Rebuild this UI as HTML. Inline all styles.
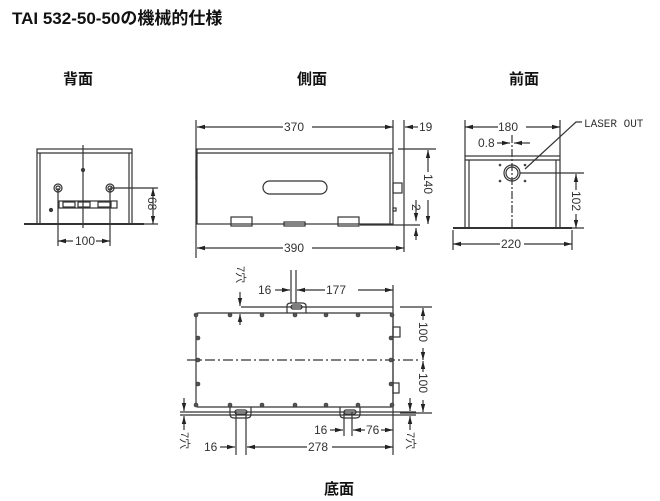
<!DOCTYPE html>
<html><head><meta charset="utf-8"><style>
body{margin:0;background:#fff;width:660px;height:501px;overflow:hidden}
svg{display:block}
.t{font-family:"Liberation Sans","Noto Sans CJK JP",sans-serif}
</style></head><body>
<svg width="660" height="501" viewBox="0 0 660 501" xmlns="http://www.w3.org/2000/svg">
<defs><marker id="a" markerWidth="8" markerHeight="6" refX="8" refY="3" orient="auto-start-reverse" markerUnits="userSpaceOnUse"><path d="M0,0.8 L8,3 L0,5.2z" fill="#222"/></marker></defs>
<g class="t" font-weight="bold" fill="#111">
<text x="12" y="24" font-size="17">TAI 532-50-50の機械的仕様</text>
<text x="63" y="84" font-size="15">背面</text>
<text x="297" y="84" font-size="15">側面</text>
<text x="509" y="84" font-size="15">前面</text>
<text x="324" y="494" font-size="15">底面</text>
</g>
<g stroke="#333" stroke-width="1.2" fill="none">
<rect x="37" y="149" width="95" height="75"/><line x1="37" y1="153" x2="132" y2="153"/>
<line x1="40" y1="153" x2="40" y2="224"/><line x1="129" y1="153" x2="129" y2="224"/>
<line x1="24" y1="224" x2="144" y2="224" stroke-width="2"/>
<line x1="83" y1="145" x2="83" y2="228"/>
<circle cx="58" cy="188" r="4"/><circle cx="58" cy="188" r="2"/><circle cx="110" cy="188" r="4"/><circle cx="110" cy="188" r="2"/>
<circle cx="83" cy="170" r="1.5" fill="#444"/><circle cx="51" cy="210" r="1.5" fill="#444"/>
<rect x="59" y="201" width="58" height="7"/><rect x="63" y="202" width="12" height="5"/><rect x="78" y="202" width="12" height="5"/><rect x="98" y="202" width="13" height="5"/>
<line x1="58" y1="188" x2="58" y2="246"/><line x1="110" y1="188" x2="110" y2="246"/>
<line x1="58" y1="241" x2="73" y2="241" marker-start="url(#a)"/><line x1="96" y1="241" x2="110" y2="241" marker-end="url(#a)"/>
<line x1="110" y1="188" x2="158" y2="188"/><line x1="140" y1="224" x2="158" y2="224"/>
<line x1="153" y1="188" x2="153" y2="224" marker-start="url(#a)" marker-end="url(#a)"/>
<rect x="197" y="149" width="196" height="75"/><line x1="197" y1="153" x2="393" y2="153"/><line x1="390" y1="153" x2="390" y2="224"/>
<line x1="196" y1="160" x2="196" y2="180"/>
<rect x="263" y="181" width="64" height="13" rx="6.5"/>
<rect x="231" y="217" width="21" height="9"/><rect x="284" y="222" width="21" height="4"/><rect x="338" y="217" width="21" height="9"/>
<line x1="360" y1="225" x2="420" y2="225"/>
<rect x="393" y="183" width="9" height="10"/><rect x="393" y="208" width="3" height="3"/>
<line x1="196" y1="120" x2="196" y2="258"/><line x1="393" y1="120" x2="393" y2="149"/><line x1="404" y1="120" x2="404" y2="252"/>
<line x1="197" y1="127" x2="283" y2="127" marker-start="url(#a)"/><line x1="312" y1="127" x2="393" y2="127" marker-end="url(#a)"/>
<line x1="418" y1="127" x2="405" y2="127" marker-end="url(#a)"/>
<line x1="197" y1="248" x2="283" y2="248" marker-start="url(#a)"/><line x1="312" y1="248" x2="404" y2="248" marker-end="url(#a)"/>
<line x1="398" y1="149" x2="436" y2="149"/>
<line x1="428" y1="150" x2="428" y2="172" marker-start="url(#a)"/><line x1="428" y1="200" x2="428" y2="224" marker-end="url(#a)"/>
<line x1="416" y1="200" x2="416" y2="221" marker-end="url(#a)"/><line x1="416" y1="240" x2="416" y2="228" marker-end="url(#a)"/>
<rect x="465" y="156" width="95" height="72"/><line x1="465" y1="160" x2="560" y2="160"/>
<line x1="469" y1="160" x2="469" y2="228"/><line x1="556" y1="160" x2="556" y2="228"/>
<line x1="453" y1="228" x2="572" y2="228" stroke-width="2"/>
<circle cx="512" cy="173" r="8"/><circle cx="512" cy="173" r="6"/>
<line x1="512" y1="135" x2="512" y2="228" stroke-dasharray="8,2,2,2"/>
<line x1="465" y1="120" x2="465" y2="156"/><line x1="560" y1="120" x2="560" y2="156"/>
<line x1="465" y1="127" x2="498" y2="127" marker-start="url(#a)"/><line x1="526" y1="127" x2="560" y2="127" marker-end="url(#a)"/>
<line x1="497" y1="143" x2="510" y2="143" marker-end="url(#a)"/><line x1="530" y1="143" x2="514" y2="143" marker-end="url(#a)"/>
<polyline points="582,122 576,122 525,169" />
<line x1="520" y1="173" x2="584" y2="173"/><line x1="560" y1="228" x2="584" y2="228"/>
<line x1="576" y1="174" x2="576" y2="190" marker-start="url(#a)"/><line x1="576" y1="214" x2="576" y2="228" marker-end="url(#a)"/>
<line x1="453" y1="230" x2="453" y2="250"/><line x1="572" y1="230" x2="572" y2="250"/>
<line x1="453" y1="244" x2="500" y2="244" marker-start="url(#a)"/><line x1="524" y1="244" x2="572" y2="244" marker-end="url(#a)"/>
<rect x="196" y="313" width="197" height="94" rx="2"/>
<line x1="241" y1="307" x2="393" y2="307"/>
<path d="M287,313 L287,306 Q287,303 291,303 L302,303 Q306,303 306,306 L306,313"/>
<rect x="291" y="305" width="11" height="4" rx="2"/>
<line x1="180" y1="412" x2="416" y2="412"/><line x1="180" y1="415" x2="416" y2="415"/>
<path d="M230,407 L230,414 Q230,418 234,418 L247,418 Q251,418 251,414 L251,407"/><rect x="235" y="410" width="12" height="4" rx="2"/>
<path d="M340,407 L340,414 Q340,418 344,418 L356,418 Q360,418 360,414 L360,407"/><rect x="344" y="410" width="12" height="4" rx="2"/>
<line x1="187" y1="360" x2="420" y2="360" stroke-dasharray="10,3,2,3"/>
<line x1="393" y1="285" x2="393" y2="455"/>
<line x1="291" y1="270" x2="291" y2="303"/><line x1="296" y1="270" x2="296" y2="303"/>
<line x1="275" y1="290" x2="290" y2="290" marker-end="url(#a)"/>
<line x1="297" y1="290" x2="325" y2="290" marker-start="url(#a)"/><line x1="358" y1="290" x2="393" y2="290" marker-end="url(#a)"/>
<line x1="400" y1="307" x2="432" y2="307"/><line x1="400" y1="413" x2="432" y2="413"/>
<line x1="423" y1="308" x2="423" y2="320" marker-start="url(#a)"/><line x1="423" y1="348" x2="423" y2="360" marker-end="url(#a)"/>
<line x1="423" y1="361" x2="423" y2="372" marker-start="url(#a)"/><line x1="423" y1="400" x2="423" y2="412" marker-end="url(#a)"/>
<rect x="393" y="327" width="7" height="10"/><rect x="393" y="383" width="6" height="10"/>
<line x1="236" y1="412" x2="236" y2="455"/><line x1="246" y1="412" x2="246" y2="455"/>
<line x1="220" y1="447" x2="235" y2="447" marker-end="url(#a)"/>
<line x1="247" y1="447" x2="307" y2="447" marker-start="url(#a)"/><line x1="332" y1="447" x2="393" y2="447" marker-end="url(#a)"/>
<line x1="344" y1="412" x2="344" y2="436"/><line x1="352" y1="412" x2="352" y2="436"/>
<line x1="330" y1="430" x2="343" y2="430" marker-end="url(#a)"/>
<line x1="353" y1="430" x2="365" y2="430" marker-start="url(#a)"/><line x1="381" y1="430" x2="393" y2="430" marker-end="url(#a)"/>
<line x1="240" y1="292" x2="240" y2="306" marker-end="url(#a)"/><line x1="240" y1="325" x2="240" y2="314" marker-end="url(#a)"/>
<line x1="184" y1="398" x2="184" y2="411" marker-end="url(#a)"/><line x1="184" y1="430" x2="184" y2="416" marker-end="url(#a)"/>
<line x1="410" y1="398" x2="410" y2="411" marker-end="url(#a)"/><line x1="410" y1="430" x2="410" y2="416" marker-end="url(#a)"/>
</g>
<g fill="#555" stroke="#333" stroke-width="0.6">
<circle cx="196" cy="315" r="2"/><circle cx="230" cy="315" r="2"/><circle cx="262" cy="315" r="2"/><circle cx="295" cy="315" r="2"/><circle cx="326" cy="315" r="2"/><circle cx="358" cy="315" r="2"/><circle cx="392" cy="315" r="2"/>
<circle cx="196" cy="405" r="2"/><circle cx="230" cy="405" r="2"/><circle cx="262" cy="405" r="2"/><circle cx="295" cy="405" r="2"/><circle cx="326" cy="405" r="2"/><circle cx="358" cy="405" r="2"/><circle cx="392" cy="405" r="2"/>
<circle cx="198" cy="338" r="2"/><circle cx="198" cy="360" r="2"/><circle cx="198" cy="384" r="2"/>
<circle cx="391" cy="338" r="2"/><circle cx="391" cy="360" r="2"/><circle cx="391" cy="384" r="2"/>
<circle cx="500" cy="165" r="1"/><circle cx="525" cy="165" r="1"/><circle cx="500" cy="181" r="1"/><circle cx="525" cy="181" r="1"/>
</g>
<g class="t" font-size="12" fill="#333">
<text x="75" y="245">100</text>
<text x="284" y="131">370</text>
<text x="284" y="252">390</text>
<text x="419" y="131">19</text>
<text x="498" y="131">180</text>
<text x="478" y="147">0.8</text>
<text x="584" y="127" font-family="Liberation Mono,monospace" font-size="11">LASER OUT</text>
<text x="501" y="248">220</text>
<text x="258" y="294">16</text>
<text x="326" y="294">177</text>
<text x="204" y="451">16</text>
<text x="308" y="451">278</text>
<text x="314" y="434">16</text>
<text x="366" y="434">76</text>
<text transform="translate(148,197) rotate(90)">68</text>
<text transform="translate(424,174) rotate(90)">140</text>
<text transform="translate(412,204) rotate(90)">2</text>
<text transform="translate(572,191) rotate(90)">102</text>
<text transform="translate(419,322) rotate(90)">100</text>
<text transform="translate(419,373) rotate(90)">100</text>
<text transform="translate(237,266) rotate(90)" font-size="11">7穴</text>
<text transform="translate(181,432) rotate(90)" font-size="11">7穴</text>
<text transform="translate(407,432) rotate(90)" font-size="11">7穴</text>
</g>
</svg>
</body></html>
